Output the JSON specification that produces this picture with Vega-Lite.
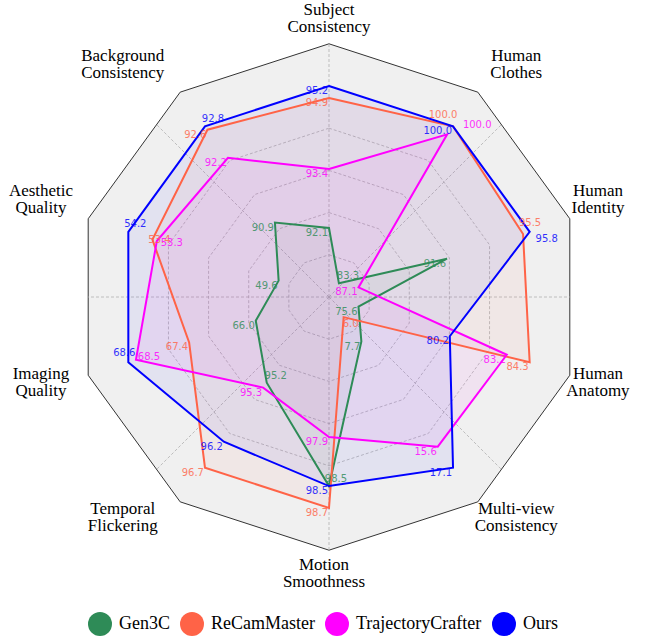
{
  "$schema": "https://vega.github.io/schema/vega-lite/v6.json",
  "width": 651,
  "height": 638,
  "autosize": {"type": "none"},
  "padding": 0,
  "background": "white",
  "config": {"view": {"stroke": null}},
  "datasets": {
    "scores": [
      {"model": "Gen3C", "k": 0, "score": 92.1, "r": 0.327},
      {"model": "Gen3C", "k": 1, "score": 83.3, "r": 0.08},
      {"model": "Gen3C", "k": 2, "score": 91.6, "r": 0.588},
      {"model": "Gen3C", "k": 3, "score": 75.6, "r": 0.147},
      {"model": "Gen3C", "k": 4, "score": 7.7, "r": 0.261},
      {"model": "Gen3C", "k": 5, "score": 98.5, "r": 0.896},
      {"model": "Gen3C", "k": 6, "score": 95.2, "r": 0.502},
      {"model": "Gen3C", "k": 7, "score": 66.0, "r": 0.365},
      {"model": "Gen3C", "k": 8, "score": 49.6, "r": 0.251},
      {"model": "Gen3C", "k": 9, "score": 90.9, "r": 0.436},
      {"model": "ReCamMaster", "k": 0, "score": 94.9, "r": 0.943},
      {"model": "ReCamMaster", "k": 1, "score": 100.0, "r": 1.0},
      {"model": "ReCamMaster", "k": 2, "score": 95.5, "r": 0.967},
      {"model": "ReCamMaster", "k": 3, "score": 84.3, "r": 1.0},
      {"model": "ReCamMaster", "k": 4, "score": 6.0, "r": 0.118},
      {"model": "ReCamMaster", "k": 5, "score": 98.7, "r": 1.0},
      {"model": "ReCamMaster", "k": 6, "score": 96.7, "r": 1.0},
      {"model": "ReCamMaster", "k": 7, "score": 67.4, "r": 0.697},
      {"model": "ReCamMaster", "k": 8, "score": 53.4, "r": 0.88},
      {"model": "ReCamMaster", "k": 9, "score": 92.6, "r": 0.98},
      {"model": "TrajectoryCrafter", "k": 0, "score": 93.4, "r": 0.607},
      {"model": "TrajectoryCrafter", "k": 1, "score": 100.0, "r": 0.953},
      {"model": "TrajectoryCrafter", "k": 2, "score": 87.1, "r": 0.147},
      {"model": "TrajectoryCrafter", "k": 3, "score": 83.2, "r": 0.886},
      {"model": "TrajectoryCrafter", "k": 4, "score": 15.6, "r": 0.877},
      {"model": "TrajectoryCrafter", "k": 5, "score": 97.9, "r": 0.664},
      {"model": "TrajectoryCrafter", "k": 6, "score": 95.3, "r": 0.531},
      {"model": "TrajectoryCrafter", "k": 7, "score": 68.5, "r": 0.962},
      {"model": "TrajectoryCrafter", "k": 8, "score": 53.3, "r": 0.858},
      {"model": "TrajectoryCrafter", "k": 9, "score": 92.2, "r": 0.815},
      {"model": "Ours", "k": 0, "score": 95.2, "r": 1.0},
      {"model": "Ours", "k": 1, "score": 100.0, "r": 1.0},
      {"model": "Ours", "k": 2, "score": 95.8, "r": 1.0},
      {"model": "Ours", "k": 3, "score": 80.2, "r": 0.602},
      {"model": "Ours", "k": 4, "score": 17.1, "r": 1.0},
      {"model": "Ours", "k": 5, "score": 98.5, "r": 0.896},
      {"model": "Ours", "k": 6, "score": 96.2, "r": 0.848},
      {"model": "Ours", "k": 7, "score": 68.6, "r": 1.0},
      {"model": "Ours", "k": 8, "score": 54.2, "r": 1.0},
      {"model": "Ours", "k": 9, "score": 92.8, "r": 1.0}
    ],
    "axes": [
      {"k": 0, "label": "Subject\nConsistency"},
      {"k": 1, "label": "Human\nClothes"},
      {"k": 2, "label": "Human\nIdentity"},
      {"k": 3, "label": "Human\nAnatomy"},
      {"k": 4, "label": "Multi-view\nConsistency"},
      {"k": 5, "label": "Motion\nSmoothness"},
      {"k": 6, "label": "Temporal\nFlickering"},
      {"k": 7, "label": "Imaging\nQuality"},
      {"k": 8, "label": "Aesthetic\nQuality"},
      {"k": 9, "label": "Background\nConsistency"}
    ],
    "levels": [
      {"level": 0.2, "k": [0, 1, 2, 3, 4, 5, 6, 7, 8, 9]},
      {"level": 0.4, "k": [0, 1, 2, 3, 4, 5, 6, 7, 8, 9]},
      {"level": 0.6, "k": [0, 1, 2, 3, 4, 5, 6, 7, 8, 9]},
      {"level": 0.8, "k": [0, 1, 2, 3, 4, 5, 6, 7, 8, 9]}
    ],
    "spokes": [
      {"deg": 0}, {"deg": 45}, {"deg": 90}, {"deg": 135},
      {"deg": 180}, {"deg": 225}, {"deg": 270}, {"deg": 315}
    ]
  },
  "layer": [
    {
      "data": {"name": "axes"},
      "transform": [
        {"calculate": "datum.k*PI/5", "as": "t"},
        {"calculate": "1.2*sin(datum.t)", "as": "x"},
        {"calculate": "1.2*cos(datum.t)", "as": "y"}
      ],
      "mark": {"type": "line", "interpolate": "linear-closed", "fill": "#f0f0f0", "stroke": "#333333", "strokeWidth": 1},
      "encoding": {
        "x": {"field": "x", "type": "quantitative", "scale": {"domain": [-1.55924, 1.52607], "nice": false, "zero": false}, "axis": null},
        "y": {"field": "y", "type": "quantitative", "scale": {"domain": [-1.61611, 1.40758], "nice": false, "zero": false}, "axis": null},
        "order": {"field": "k", "type": "quantitative"}
      }
    },
    {
      "data": {"name": "levels"},
      "transform": [
        {"flatten": ["k"]},
        {"calculate": "datum.k*PI/5", "as": "t"},
        {"calculate": "datum.level*sin(datum.t)", "as": "x"},
        {"calculate": "datum.level*cos(datum.t)", "as": "y"}
      ],
      "mark": {"type": "line", "interpolate": "linear-closed", "stroke": "#b0b0b0", "strokeWidth": 0.8, "strokeDash": [3, 2]},
      "encoding": {
        "x": {"field": "x", "type": "quantitative", "scale": {"domain": [-1.55924, 1.52607], "nice": false, "zero": false}, "axis": null},
        "y": {"field": "y", "type": "quantitative", "scale": {"domain": [-1.61611, 1.40758], "nice": false, "zero": false}, "axis": null},
        "detail": {"field": "level", "type": "nominal"},
        "order": {"field": "k", "type": "quantitative"}
      }
    },
    {
      "data": {"name": "spokes"},
      "transform": [
        {"calculate": "datum.deg*PI/180", "as": "a"},
        {"calculate": "1.2*cos(PI/10)/cos((datum.a % (PI/5)) - PI/10)", "as": "d"},
        {"calculate": "datum.d*sin(datum.a)", "as": "x2"},
        {"calculate": "datum.d*cos(datum.a)", "as": "y2"},
        {"calculate": "0", "as": "x0"},
        {"calculate": "0", "as": "y0"}
      ],
      "mark": {"type": "rule", "stroke": "#b0b0b0", "strokeWidth": 0.8, "strokeDash": [3, 2]},
      "encoding": {
        "x": {"field": "x0", "type": "quantitative", "scale": {"domain": [-1.55924, 1.52607], "nice": false, "zero": false}, "axis": null},
        "y": {"field": "y0", "type": "quantitative", "scale": {"domain": [-1.61611, 1.40758], "nice": false, "zero": false}, "axis": null},
        "x2": {"field": "x2"},
        "y2": {"field": "y2"}
      }
    },
    {
      "data": {"name": "scores"},
      "transform": [
        {"calculate": "datum.k*PI/5", "as": "t"},
        {"calculate": "datum.r*sin(datum.t)", "as": "x"},
        {"calculate": "datum.r*cos(datum.t)", "as": "y"}
      ],
      "mark": {"type": "line", "interpolate": "linear-closed", "filled": true, "fillOpacity": 0.055, "strokeOpacity": 0},
      "encoding": {
        "x": {"field": "x", "type": "quantitative", "scale": {"domain": [-1.55924, 1.52607], "nice": false, "zero": false}, "axis": null},
        "y": {"field": "y", "type": "quantitative", "scale": {"domain": [-1.61611, 1.40758], "nice": false, "zero": false}, "axis": null},
        "color": {"field": "model", "type": "nominal", "scale": {"domain": ["Gen3C", "ReCamMaster", "TrajectoryCrafter", "Ours"], "range": ["#2e8b57", "#ff6347", "#ff00ff", "#0000ff"]}},
        "order": {"field": "k", "type": "quantitative"}
      }
    },
    {
      "data": {"name": "scores"},
      "transform": [
        {"calculate": "datum.k*PI/5", "as": "t"},
        {"calculate": "datum.r*sin(datum.t)", "as": "x"},
        {"calculate": "datum.r*cos(datum.t)", "as": "y"}
      ],
      "mark": {"type": "line", "interpolate": "linear-closed", "strokeWidth": 2},
      "encoding": {
        "x": {"field": "x", "type": "quantitative", "scale": {"domain": [-1.55924, 1.52607], "nice": false, "zero": false}, "axis": null},
        "y": {"field": "y", "type": "quantitative", "scale": {"domain": [-1.61611, 1.40758], "nice": false, "zero": false}, "axis": null},
        "color": {
          "field": "model", "type": "nominal",
          "scale": {"domain": ["Gen3C", "ReCamMaster", "TrajectoryCrafter", "Ours"], "range": ["#2e8b57", "#ff6347", "#ff00ff", "#0000ff"]},
          "legend": {
            "title": null, "orient": "none", "legendX": 88, "legendY": 612, "direction": "horizontal",
            "symbolType": "circle", "symbolSize": 576, "symbolStrokeWidth": 0, "symbolOpacity": 1,
            "labelFont": "Liberation Serif", "labelFontSize": 18, "labelColor": "black", "labelOffset": 7,
            "columnPadding": 10, "padding": 0,
            "encode": {"symbols": {"update": {"fill": {"scale": "color", "field": "value"}, "fillOpacity": {"value": 1}, "strokeWidth": {"value": 0}, "opacity": {"value": 1}}}}
          }
        },
        "order": {"field": "k", "type": "quantitative"}
      }
    },
    {
      "data": {"name": "scores"},
      "transform": [
        {"calculate": "datum.k*PI/5", "as": "t"},
        {"calculate": "datum.r*sin(datum.t)", "as": "x"},
        {"calculate": "datum.r*cos(datum.t)", "as": "y"},
        {"calculate": "indexof(['Ours|2','Ours|7','Ours|8','Ours|9','ReCamMaster|1','ReCamMaster|2','ReCamMaster|4','ReCamMaster|8','TrajectoryCrafter|1','TrajectoryCrafter|7','TrajectoryCrafter|8','Gen3C|1','Gen3C|5','Gen3C|6'], datum.model + '|' + datum.k)", "as": "li"},
        {"filter": "datum.li < 0"}
      ],
      "mark": {"type": "text", "align": "right", "baseline": "middle", "dx": -1, "dy": 5, "font": "DejaVu Sans", "fontSize": 10, "opacity": 0.8},
      "encoding": {
        "x": {"field": "x", "type": "quantitative", "scale": {"domain": [-1.55924, 1.52607], "nice": false, "zero": false}, "axis": null},
        "y": {"field": "y", "type": "quantitative", "scale": {"domain": [-1.61611, 1.40758], "nice": false, "zero": false}, "axis": null},
        "text": {"field": "score", "type": "quantitative", "format": ".1f"},
        "color": {"field": "model", "type": "nominal", "scale": {"domain": ["Gen3C", "ReCamMaster", "TrajectoryCrafter", "Ours"], "range": ["#2e8b57", "#ff6347", "#ff00ff", "#0000ff"]}}
      }
    },
    {
      "data": {"name": "scores"},
      "transform": [
        {"calculate": "datum.k*PI/5", "as": "t"},
        {"calculate": "indexof(['Ours|2','Ours|7','Ours|8','Ours|9','ReCamMaster|1','ReCamMaster|2','ReCamMaster|4','ReCamMaster|8','TrajectoryCrafter|1','TrajectoryCrafter|7','TrajectoryCrafter|8','Gen3C|1','Gen3C|5','Gen3C|6'], datum.model + '|' + datum.k)", "as": "li"},
        {"filter": "datum.li >= 0"},
        {"calculate": "[17,-4,7,8,-10,7,7,7,30,13,15,9,7,9][datum.li]", "as": "ox"},
        {"calculate": "[7,-9,-8,-7,-11,-11,7,0,-9,-3,2,-7,-7,-7][datum.li]", "as": "oy"},
        {"calculate": "datum.r*sin(datum.t) + datum.ox/211", "as": "x"},
        {"calculate": "datum.r*cos(datum.t) - datum.oy/211", "as": "y"}
      ],
      "mark": {"type": "text", "align": "center", "baseline": "middle", "font": "DejaVu Sans", "fontSize": 10, "opacity": 0.8},
      "encoding": {
        "x": {"field": "x", "type": "quantitative", "scale": {"domain": [-1.55924, 1.52607], "nice": false, "zero": false}, "axis": null},
        "y": {"field": "y", "type": "quantitative", "scale": {"domain": [-1.61611, 1.40758], "nice": false, "zero": false}, "axis": null},
        "text": {"field": "score", "type": "quantitative", "format": ".1f"},
        "color": {"field": "model", "type": "nominal", "scale": {"domain": ["Gen3C", "ReCamMaster", "TrajectoryCrafter", "Ours"], "range": ["#2e8b57", "#ff6347", "#ff00ff", "#0000ff"]}}
      }
    },
    {
      "data": {"name": "axes"},
      "transform": [
        {"calculate": "datum.k*PI/5", "as": "t"},
        {"calculate": "(225*sin(datum.t) + (datum.k == 0 ? 0 : datum.k == 5 ? -5 : (sin(datum.t) > 0 ? 55 : -74)))/211", "as": "x"},
        {"calculate": "((datum.k == 0 ? 278 : datum.k == 5 ? -276 : 270*cos(datum.t) + (cos(datum.t) > 0 ? 14 : -2)) + 8.5)/211", "as": "y"}
      ],
      "mark": {"type": "text", "align": "center", "baseline": "middle", "font": "Liberation Serif", "fontSize": 17, "lineHeight": 17, "lineBreak": "\n", "color": "black"},
      "encoding": {
        "x": {"field": "x", "type": "quantitative", "scale": {"domain": [-1.55924, 1.52607], "nice": false, "zero": false}, "axis": null},
        "y": {"field": "y", "type": "quantitative", "scale": {"domain": [-1.61611, 1.40758], "nice": false, "zero": false}, "axis": null},
        "text": {"field": "label", "type": "nominal"}
      }
    }
  ]
}
